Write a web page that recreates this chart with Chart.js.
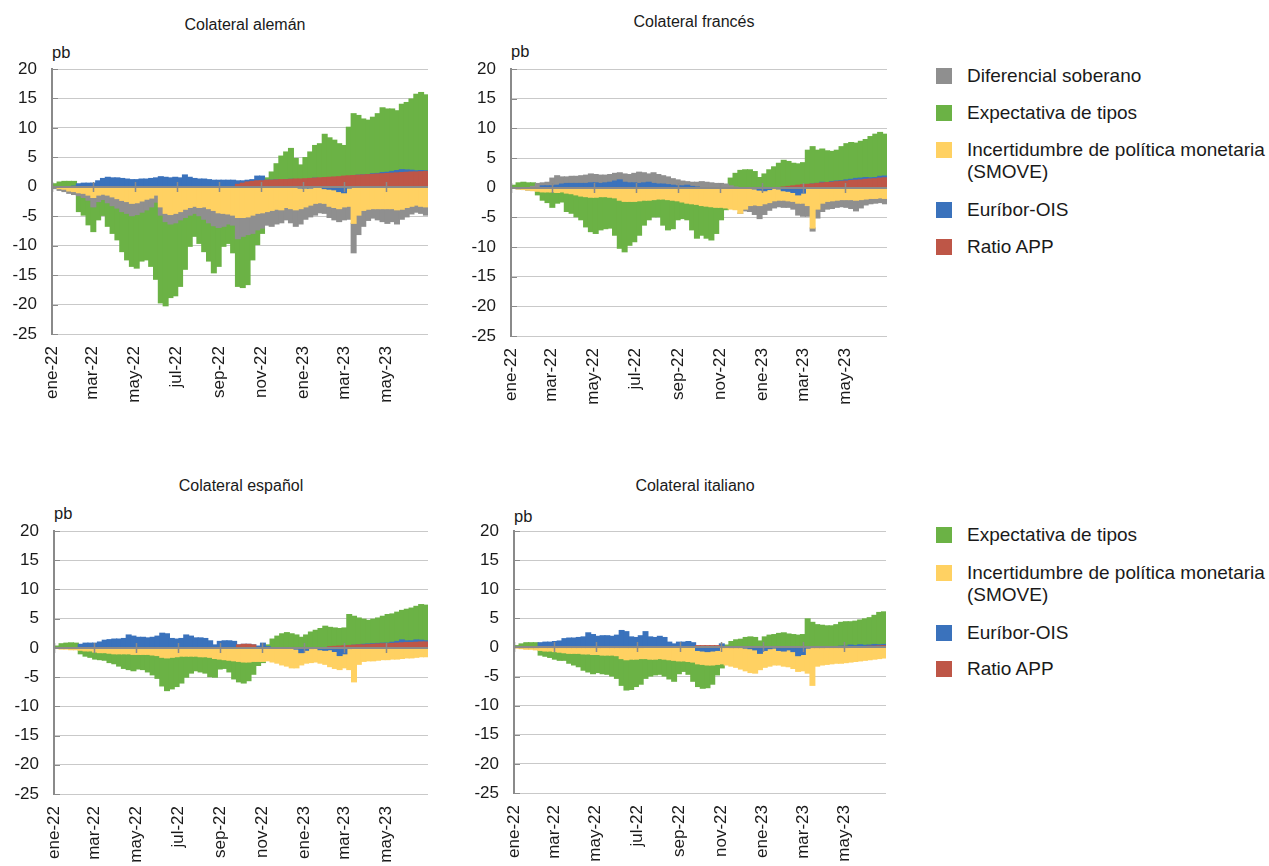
<!DOCTYPE html>
<html lang="es">
<head>
<meta charset="utf-8">
<title>Colateral: descomposición</title>
<script src="https://cdn.jsdelivr.net/npm/chart.js@4.4.1/dist/chart.umd.min.js"></script>
<style>
  html, body { margin: 0; padding: 0; background: #fff; }
  body { position: relative; width: 1269px; height: 866px; overflow: hidden;
         font-family: "Liberation Sans", Arial, Helvetica, sans-serif; color: #1a1a1a; }
  canvas { position: absolute; }
  .title { position: absolute; font-size: 16px; line-height: 16px; white-space: nowrap; transform: translateX(-50%); }
  .unit { position: absolute; font-size: 16.5px; line-height: 16.5px; }
  .leg { position: absolute; left: 936px; font-size: 19px; line-height: 22px; white-space: nowrap; }
  .leg i { position: absolute; left: 0; top: 3px; width: 16px; height: 16px; }
  .leg span { position: absolute; left: 31px; top: 0; }
</style>
</head>
<body>

<div class="title" style="left:245px; top:17px;">Colateral alemán</div>
<div class="title" style="left:694px; top:14px;">Colateral francés</div>
<div class="title" style="left:241px; top:478px;">Colateral español</div>
<div class="title" style="left:695px; top:478px;">Colateral italiano</div>

<div class="unit" style="left:52px; top:44px;">pb</div>
<div class="unit" style="left:511px; top:43px;">pb</div>
<div class="unit" style="left:54px; top:505px;">pb</div>
<div class="unit" style="left:514px; top:508px;">pb</div>

<canvas id="c-de" width="440" height="360" style="left:0px; top:60px;"></canvas>
<canvas id="c-fr" width="440" height="360" style="left:459px; top:60px;"></canvas>
<canvas id="c-es" width="440" height="344" style="left:2px; top:522px;"></canvas>
<canvas id="c-it" width="440" height="344" style="left:462px; top:522px;"></canvas>

<div id="legend-top"></div>
<div id="legend-bottom"></div>

<script>
// ---- Categories: weekly observations (weeks starting Monday 3 Jan 2022) ----
const weekCount = 78;
const weeks = [];
for (let i = 0; i < weekCount; i++) {
  const d = new Date(Date.UTC(2022, 0, 3 + 7 * i));
  weeks.push(d.toISOString().slice(0, 10));
}

// ---- Axis ticks ----
const tickDates  = ['2022-01-01','2022-03-01','2022-05-01','2022-07-01','2022-09-01','2022-11-01','2023-01-01','2023-03-01','2023-05-01'];
const tickLabels = ['ene-22','mar-22','may-22','jul-22','sep-22','nov-22','ene-23','mar-23','may-23'];
const axisStart = '2022-01-01';
const axisEnd   = '2023-07-01';
const yTicks = [-25, -20, -15, -10, -5, 0, 5, 10, 15, 20];

// ---- Series names and colours ----
const seriesNames = {
  dif: 'Diferencial soberano',
  exp: 'Expectativa de tipos',
  inc: 'Incertidumbre de política monetaria (SMOVE)',
  eur: 'Euríbor-OIS',
  app: 'Ratio APP'
};
const seriesColors = {
  dif: '#8f8f8f',
  exp: '#6bb245',
  inc: '#ffd162',
  eur: '#3a72bc',
  app: '#be5647'
};

// ---- Colateral alemán (pb) ----
const deApp = [0,0,0,0,0,0,0,0,0,0,0,0,0,
  0,0,0,0,0,0,0,0,0,0,0,0,0,
  0,0,0,0,0,0,0,0,0,0,0,0,0.4,
  0.6,0.8,0.9,1.0,1.0,1.1,1.1,1.15,1.2,1.2,1.25,1.3,1.3,
  1.35,1.4,1.45,1.5,1.55,1.6,1.65,1.7,1.8,1.85,1.9,1.95,2.0,
  2.05,2.1,2.15,2.2,2.25,2.3,2.35,2.4,2.45,2.5,2.5,2.55,2.6];
const deEur = [0,0,0,0,0.1,0.5,0.6,0.6,0.6,1.0,1.4,1.6,1.5,
  1.5,1.4,1.3,1.2,1.2,1.3,1.3,1.4,1.5,1.7,1.6,1.5,1.6,
  1.5,2.0,1.6,1.4,1.3,1.3,1.2,1.1,1.1,1.1,1.1,1.1,0.6,
  0.4,0.3,0.3,0.8,0.8,0,0,0,-0.1,0,0,-0.1,-0.2,
  -0.2,-0.2,0,-0.1,-0.3,-0.4,-0.5,-0.8,-1.0,-0.2,0,0,0,
  0,0.1,0.1,0.2,0.2,0.3,0.4,0.5,0.4,0.3,0.2,0.2,0.1];
const deInc = [-0.1,-0.3,-0.4,-0.7,-0.8,-1.0,-1.1,-1.4,-1.8,-1.4,-1.25,-1.4,-1.7,
  -2.0,-2.3,-2.5,-2.8,-2.7,-2.4,-2.1,-1.9,-1.4,-3.4,-4.5,-4.7,-4.5,
  -4.2,-3.8,-3.5,-3.3,-3.5,-3.4,-3.7,-4.0,-4.4,-4.5,-4.6,-4.8,-5.2,
  -5.2,-5.1,-4.8,-4.5,-4.4,-4.2,-4.0,-3.8,-3.8,-3.5,-3.7,-3.8,-3.5,
  -3.2,-2.9,-2.8,-2.6,-2.5,-2.9,-3.0,-2.9,-2.4,-3.1,-6.2,-4.8,-4.0,
  -3.8,-3.7,-3.7,-3.7,-3.7,-3.7,-3.9,-3.8,-3.5,-3.3,-3.1,-3.3,-3.4];
const deDif = [-0.2,-0.3,-0.4,-0.4,-0.5,-0.5,-0.7,-0.85,-1.6,-1.1,-0.9,-1.3,-1.5,
  -1.6,-1.9,-2.0,-2.1,-2.0,-1.9,-1.8,-1.5,-1.2,-1.4,-1.4,-1.6,-1.6,
  -1.4,-1.4,-1.3,-1.2,-1.4,-2.1,-2.4,-2.6,-2.5,-2.2,-1.7,-1.7,-3.6,
  -3.2,-3.0,-3.1,-2.8,-2.6,-2.3,-2.7,-2.5,-2.2,-2.1,-2.4,-2.8,-2.6,
  -2.1,-2.0,-2.0,-1.7,-1.7,-1.9,-2.1,-2.2,-2.2,-2.2,-5.0,-3.3,-2.7,
  -1.9,-1.6,-1.9,-2.2,-2.5,-2.2,-2.4,-1.7,-1.6,-1.3,-1.2,-1.2,-1.4];
const deExp = [0.5,0.8,0.9,0.9,0.8,-2.7,-3.0,-4.2,-4.2,-3.1,-2.7,-4.0,-4.7,
  -5.4,-6.8,-7.9,-8.6,-9.1,-8.3,-8.5,-10.1,-13.1,-14.9,-14.3,-12.5,-12.4,
  -11.3,-8.8,-5.3,-3.9,-4.7,-5.5,-6.5,-8.0,-6.6,-3.4,-3.3,-4.7,-8.1,
  -8.7,-8.5,-4.5,-2.5,-0.9,0.4,1.4,2.75,4.0,4.7,5.25,3.5,2.4,
  3.6,4.5,5.55,5.8,7.35,6.7,6.25,5.6,5.2,8.25,10.5,10.15,9.5,
  9.25,9.6,10.15,11.0,10.75,10.6,10.15,11.1,11.45,12.1,13.0,13.25,12.9];

// ---- Colateral francés (pb) ----
const frApp = [0,0,0,0,0,0,0,0,0,0,0,0,0,
  0,0,0,0,0,0,0,0,0,0,0,0,0,
  0,0,0,0,0,0,0,0,0,0,0,0,0,
  0,0,0,0,0,0,0,0,0,0,0,0,0,
  0,0,0,0,0.1,0.2,0.3,0.4,0.5,0.55,0.6,0.7,0.8,
  0.85,0.9,1.0,1.05,1.1,1.2,1.25,1.3,1.4,1.45,1.5,1.6,1.65];
const frEur = [0,0,0,0,0,0,0.3,0.3,0.3,0.4,0.6,0.7,0.7,
  0.7,0.7,0.7,0.8,0.8,0.7,0.8,0.9,1.1,1.3,0.9,0.8,0.8,
  0.7,0.8,0.9,0.7,0.6,0.6,0.5,0.4,0.3,0.3,0.4,0.2,0.1,
  0,0,0,0,0,0,0,0,0,0,0,-0.2,-0.4,
  -0.5,-0.3,-0.1,-0.2,-0.5,-0.6,-0.8,-1.2,-0.9,-0.1,0,0,0.1,
  0,0.1,0.1,0.1,0.2,0.2,0.3,0.3,0.3,0.2,0.2,0.3,0.3];
const frInc = [-0.1,-0.2,-0.3,-0.4,-0.5,-0.6,-0.7,-0.7,-0.7,-0.8,-0.7,-0.9,-1.0,
  -1.2,-1.4,-1.5,-1.6,-1.6,-1.5,-1.5,-1.6,-1.7,-2.1,-2.3,-2.3,-2.3,
  -2.2,-2.1,-2.1,-2.0,-1.9,-1.9,-2.0,-2.1,-2.2,-2.4,-2.6,-2.7,-2.8,
  -3.0,-3.1,-3.2,-3.3,-3.3,-3.4,-3.6,-3.7,-4.3,-3.6,-3.0,-2.7,-2.6,
  -2.2,-2.2,-2.1,-1.9,-1.6,-1.6,-1.5,-1.4,-1.7,-2.9,-6.8,-3.6,-2.6,
  -2.3,-2.2,-2.1,-2.0,-2.0,-2.0,-2.1,-2.0,-1.9,-1.8,-1.8,-1.7,-1.8];
const frDif = [0,0,0,0,0.2,0.7,0.5,0.6,1.3,1.6,1.2,1.1,1.2,
  1.2,1.3,1.4,1.5,1.4,1.4,1.3,1.3,1.3,1.2,1.4,1.4,1.6,
  1.9,1.7,1.4,1.8,1.6,1.4,1.3,1.1,1.0,0.8,0.6,0.7,0.8,
  1.0,0.9,0.8,0.7,0.7,0.6,0.3,0.1,0,-0.3,-1.0,-1.6,-2.2,
  -1.8,-1.3,-1.2,-1.1,-1.2,-1.1,-1.3,-2.0,-2.2,-1.8,-0.5,-1.5,-1.4,
  -1.3,-1.3,-1.2,-1.2,-1.3,-1.5,-1.8,-1.4,-1.0,-0.9,-0.8,-0.8,-0.9];
const frExp = [0.4,0.8,0.9,0.8,0.6,-0.6,-1.4,-1.8,-2.6,-1.8,-1.7,-3.1,-3.3,
  -3.7,-4.0,-5.1,-5.8,-6.1,-5.6,-5.4,-5.2,-6.3,-8.1,-8.5,-7.4,-6.8,
  -5.8,-4.2,-3.3,-2.9,-3.0,-4.4,-5.1,-4.8,-3.2,-2.8,-2.8,-4.4,-5.7,
  -5.0,-5.4,-5.6,-4.4,-2.1,-0.3,1.3,2.3,2.9,3.0,3.0,2.7,1.7,
  2.3,3.0,3.5,4.1,4.5,4.2,3.8,3.6,3.7,5.75,6.3,5.6,5.6,
  5.35,5.1,5.2,5.75,6.1,6.2,5.95,6.2,6.4,6.95,7.3,7.4,7.05];

// ---- Colateral español (pb) ----
const esApp = [0,0,0,0,0,0,0,0,0,0,0,0,0,
  0,0,0,0,0,0,0,0,0,0,0,0,0,
  0,0,0,0,0,0,0,0,0,0,0,0,0.5,
  0.6,0.6,0.5,0,0,0,0,0,0,0,0,0,0,
  0,0,0,0,0,0.2,0.25,0.3,0.35,0.4,0.45,0.5,0.5,
  0.55,0.6,0.65,0.7,0.7,0.75,0.8,0.85,0.9,0.9,0.95,1.0,1.0];
const esEur = [0,0,0,0,0,0.6,0.8,0.8,0.8,1.0,1.3,1.4,1.5,
  1.5,1.6,2.2,2.0,1.8,1.8,1.7,1.8,2.0,2.5,2.4,1.6,1.5,
  1.6,2.2,2.0,1.7,1.7,1.6,1.2,0.5,1.1,1.2,1.2,1.1,0,
  0,0,0,0.3,0.8,0.2,0,0,0,0,0,-0.2,-0.8,
  -0.4,-0.1,0,-0.3,-0.4,-0.3,-0.6,-1.3,-1.0,-0.1,0,0,0.1,
  0.1,0.1,0.1,0.1,0.1,0.2,0.3,0.5,0.3,0.3,0.4,0.3,0.2];
const esInc = [-0.1,-0.2,-0.2,-0.3,-0.3,-0.4,-0.5,-0.5,-0.7,-0.8,-0.8,-0.9,-1.0,
  -1.0,-1.0,-1.0,-1.1,-1.1,-1.1,-1.1,-1.2,-1.3,-1.6,-1.7,-1.6,-1.5,
  -1.4,-1.4,-1.4,-1.4,-1.5,-1.5,-1.6,-1.8,-1.9,-2.0,-2.1,-2.2,-2.3,
  -2.4,-2.4,-2.3,-2.3,-2.3,-2.2,-2.4,-2.6,-2.9,-3.1,-3.4,-3.2,-2.1,
  -2.2,-2.4,-2.4,-2.3,-2.4,-2.9,-2.9,-2.4,-2.4,-3.6,-5.8,-2.8,-2.3,
  -2.2,-2.2,-2.1,-2.0,-2.0,-1.9,-1.9,-1.8,-1.7,-1.7,-1.6,-1.5,-1.5];
const esExp = [0.3,0.7,0.8,0.85,0.8,-0.6,-0.9,-1.1,-1.2,-1.2,-1.3,-1.6,-1.7,
  -2.1,-2.5,-2.7,-2.8,-2.5,-2.6,-3.0,-3.4,-3.9,-4.9,-5.6,-5.4,-5.1,
  -4.6,-3.6,-2.9,-2.5,-2.6,-2.8,-3.3,-3.2,-1.7,-1.5,-2.0,-3.1,-3.5,
  -3.6,-3.2,-2.2,-0.7,-0.2,0.3,1.5,2.0,2.4,2.6,2.4,2.2,1.8,
  2.2,2.7,3.0,3.3,3.7,3.3,3.15,3.0,3.05,5.3,4.95,4.6,4.3,
  4.05,4.2,4.35,4.6,4.9,4.85,5.0,5.05,5.4,5.6,5.75,6.1,6.1];

// ---- Colateral italiano (pb) ----
const itApp = [0,0,0,0,0,0,0,0,0,0,0,0,0,
  0,0,0,0,0,0,0,0,0,0,0,0,0,
  0,0.1,0.1,0.1,0.1,0.1,0.1,0.1,0.1,0.1,0.1,0.1,0.3,
  0.3,0.3,0.3,0.3,0,0,0,0,0,0,0,0,0,
  0,0,0,0,0,0,0,0,0,0,0,0,0,
  0,0,0,0,0,0.1,0.1,0.15,0.15,0.2,0.2,0.25,0.3];
const itEur = [0,0,0,0,0,0.8,0.9,0.9,1.0,1.1,1.5,1.6,1.6,
  1.7,1.8,2.5,2.2,1.9,2.0,2.0,1.9,2.1,2.9,2.7,1.8,1.7,
  2.0,2.6,1.7,1.6,1.8,1.6,0.8,0.5,0.8,0.8,0.9,0.7,-0.5,
  -0.6,-0.7,-0.6,-0.5,0.6,0.1,0,0,0,-0.1,-0.2,-0.4,-1.0,
  -0.5,-0.2,-0.1,-0.5,-0.6,-0.4,-0.7,-1.4,-1.2,-0.1,0,0,0,
  0.1,0.1,0.1,0.2,0.2,0.3,0.2,0.3,0.2,0.2,0.3,0.2,0.2];
const itInc = [-0.1,-0.2,-0.3,-0.3,-0.4,-0.5,-0.6,-0.6,-0.7,-0.8,-0.9,-1.0,-1.0,
  -1.0,-1.1,-1.1,-1.2,-1.2,-1.3,-1.3,-1.3,-1.4,-1.9,-2.1,-2.0,-2.0,
  -1.9,-1.9,-2.0,-2.0,-1.9,-2.0,-2.1,-2.2,-2.3,-2.3,-2.4,-2.5,-2.3,
  -2.3,-2.3,-2.4,-2.4,-2.8,-3.0,-3.2,-3.4,-3.7,-3.9,-4.1,-4.0,-2.8,
  -2.9,-3.0,-2.9,-2.5,-2.6,-2.9,-2.9,-2.7,-2.8,-4.3,-6.5,-3.2,-3.0,
  -2.9,-2.8,-2.7,-2.7,-2.6,-2.5,-2.4,-2.3,-2.2,-2.1,-2.0,-1.9,-1.8];
const itExp = [0.3,0.6,0.8,0.8,0.8,-0.8,-0.9,-1.1,-1.3,-1.4,-1.3,-1.7,-2.0,
  -2.3,-2.8,-3.1,-3.3,-3.1,-3.2,-3.3,-3.6,-3.9,-4.6,-5.2,-5.2,-4.7,
  -4.4,-3.4,-2.9,-2.7,-2.7,-2.9,-3.3,-3.6,-2.2,-1.8,-2.2,-3.3,-3.9,
  -4.1,-3.9,-3.3,-1.8,-0.7,0.3,1.0,1.3,1.4,1.7,1.8,1.7,1.1,
  1.8,2.1,2.2,2.4,2.5,2.3,2.2,2.1,2.2,4.9,4.3,3.9,3.8,
  3.6,3.6,3.8,4.1,4.2,4.0,4.2,4.25,4.55,4.7,5.0,5.55,5.6];

// ---- Helpers ----
const DAY = 86400000;
const t0 = Date.parse(axisStart + 'T00:00:00Z');
const dayIndex = s => Math.round((Date.parse(s + 'T00:00:00Z') - t0) / DAY);
const weekX = weeks.map(w => dayIndex(w) + 2);          // plotted at mid-week
const tickX = tickDates.map(dayIndex);
const axisMax = dayIndex(axisEnd);

Chart.defaults.font.family = '"Liberation Sans", Arial, Helvetica, sans-serif';
Chart.defaults.color = '#1a1a1a';

// Zero line with month ticks, and short inner ticks on the value axis
const axisMarks = {
  id: 'axisMarks',
  afterDatasetsDraw(chart) {
    const { ctx, chartArea, scales: { x, y } } = chart;
    const y0 = Math.round(y.getPixelForValue(0));
    ctx.save();
    ctx.strokeStyle = '#8a8a8a';
    ctx.lineWidth = 2;
    ctx.beginPath();
    ctx.moveTo(chartArea.left, y0);
    ctx.lineTo(chartArea.right, y0);
    ctx.stroke();
    ctx.lineWidth = 1.5;
    x.ticks.forEach(t => {
      const px = Math.round(x.getPixelForValue(t.value)) + 0.5;
      ctx.beginPath();
      ctx.moveTo(px, y0 - 5);
      ctx.lineTo(px, y0 + 5);
      ctx.stroke();
    });
    ctx.lineWidth = 1;
    y.ticks.forEach(t => {
      const py = Math.round(y.getPixelForValue(t.value)) + 0.5;
      ctx.beginPath();
      ctx.moveTo(chartArea.left, py);
      ctx.lineTo(chartArea.left + 6, py);
      ctx.stroke();
    });
    ctx.restore();
  }
};

// Stack order from the zero line outwards: APP, Euríbor-OIS, SMOVE, diferencial, expectativas
function buildDatasets(series) {
  return series.map(([key, values]) => ({
    label: seriesNames[key],
    data: values.map((v, i) => ({ x: weekX[i], y: v })),
    backgroundColor: seriesColors[key],
    borderWidth: 0,
    inflateAmount: 0.6,
    barPercentage: 1,
    categoryPercentage: 1
  }));
}

function drawPanel(canvasId, series, layout) {
  new Chart(document.getElementById(canvasId), {
    type: 'bar',
    data: { datasets: buildDatasets(series) },
    options: {
      responsive: false,
      animation: false,
      devicePixelRatio: 1,
      layout: { padding: { top: layout.padTop, right: layout.padRight, left: 0, bottom: 0 } },
      plugins: { legend: { display: false }, tooltip: { enabled: false } },
      scales: {
        x: {
          type: 'linear',
          stacked: true,
          offset: false,
          min: 0,
          max: axisMax,
          grid: { display: false, drawTicks: false },
          border: { display: false },
          afterBuildTicks: s => { s.ticks = tickX.map(v => ({ value: v })); },
          afterFit: s => { s.height = layout.xHeight; s.paddingLeft = 0; s.paddingRight = 0; s.paddingTop = 0; s.paddingBottom = 0; },
          ticks: {
            autoSkip: false,
            minRotation: 90,
            maxRotation: 90,
            padding: 12,
            font: { size: 17 },
            color: '#1a1a1a',
            callback: (v, i) => tickLabels[i]
          }
        },
        y: {
          stacked: true,
          min: -25,
          max: 20,
          afterBuildTicks: s => { s.ticks = yTicks.map(v => ({ value: v })); },
          afterFit: s => { s.width = 52; s.paddingTop = 0; s.paddingBottom = 0; s.paddingLeft = 0; s.paddingRight = 0; },
          grid: { color: '#c9c9c9', lineWidth: 1, drawTicks: false },
          border: { display: true, color: '#8a8a8a', width: 2 },
          ticks: { padding: 15, font: { size: 17 }, color: '#1a1a1a' }
        }
      }
    },
    plugins: [axisMarks]
  });
}

drawPanel('c-de', [['app', deApp], ['eur', deEur], ['inc', deInc], ['dif', deDif], ['exp', deExp]],
  { padTop: 9, padRight: 12, xHeight: 86 });
drawPanel('c-fr', [['app', frApp], ['eur', frEur], ['inc', frInc], ['dif', frDif], ['exp', frExp]],
  { padTop: 9, padRight: 12, xHeight: 84 });
drawPanel('c-es', [['app', esApp], ['eur', esEur], ['inc', esInc], ['exp', esExp]],
  { padTop: 9, padRight: 14, xHeight: 72 });
drawPanel('c-it', [['app', itApp], ['eur', itEur], ['inc', itInc], ['exp', itExp]],
  { padTop: 9, padRight: 16, xHeight: 73 });

// ---- Legends (right column) ----
function buildLegend(containerId, keys, centers) {
  const box = document.getElementById(containerId);
  keys.forEach((key, i) => {
    const item = document.createElement('div');
    item.className = 'leg';
    item.style.top = (centers[i] - 11) + 'px';
    const sw = document.createElement('i');
    sw.style.background = seriesColors[key];
    const tx = document.createElement('span');
    tx.innerHTML = key === 'inc'
      ? 'Incertidumbre de política monetaria<br>(SMOVE)'
      : seriesNames[key];
    item.appendChild(sw);
    item.appendChild(tx);
    box.appendChild(item);
  });
}
buildLegend('legend-top', ['dif', 'exp', 'inc', 'eur', 'app'], [75.7, 112.7, 150, 210, 246.7]);
buildLegend('legend-bottom', ['exp', 'inc', 'eur', 'app'], [535, 573.3, 632.7, 669.3]);
</script>
</body>
</html>
